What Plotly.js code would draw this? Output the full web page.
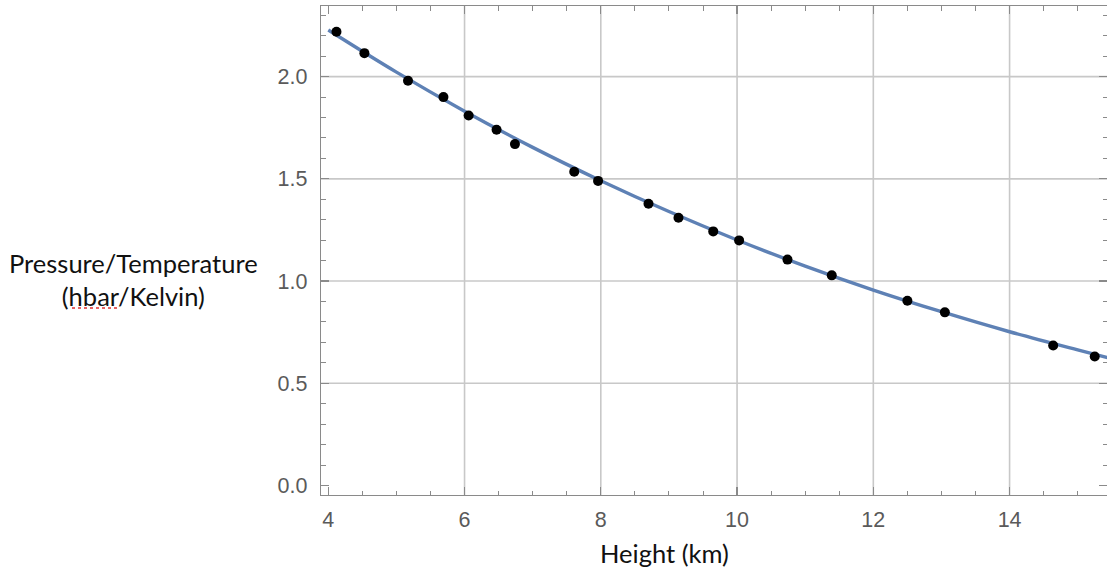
<!DOCTYPE html>
<html>
<head>
<meta charset="utf-8">
<script src="https://cdn.plot.ly/plotly-3.0.1.min.js"></script>
<style>html,body{margin:0;padding:0;background:#fff;}#chart{width:1107px;height:571px;}</style>
</head>
<body>
<div id="chart"></div>
<script>
// Measured data points
const heightKm = [4.12, 4.53, 5.17, 5.69, 6.06, 6.47, 6.74, 7.61, 7.96, 8.70, 9.14, 9.65, 10.03, 10.74, 11.39, 12.50, 13.05, 14.64, 15.25];
const pressureOverTemp = [2.22, 2.115, 1.98, 1.90, 1.81, 1.74, 1.67, 1.535, 1.49, 1.378, 1.31, 1.243, 1.199, 1.105, 1.028, 0.904, 0.847, 0.685, 0.631];

// Fitted curve
const fitX = [4, 5, 6, 7, 8, 9, 10, 11, 12, 13, 14, 15, 15.5];
const fitY = [2.228, 2.022, 1.831, 1.654, 1.491, 1.340, 1.201, 1.073, 0.956, 0.850, 0.752, 0.663, 0.620];

const xGridVals = [6, 8, 10, 12, 14];
const yGridVals = [0.5, 1.0, 1.5, 2.0];
const xTickVals = [4, 6, 8, 10, 12, 14];
const yTickVals = [0.0, 0.5, 1.0, 1.5, 2.0];
const yTickText = ['0.0', '0.5', '1.0', '1.5', '2.0'];

const xRange = [3.893, 15.43];
const yRange = [-0.0466, 2.3456];

const frameColor = '#8a8a8a';
const gridColor = '#c8c8c8';
const tickFont = {family: 'Liberation Sans, Arial, sans-serif', size: 21.5, color: '#5a5a5a'};
const titleFont = {family: 'Lato, Open Sans, sans-serif', size: 25.5, color: '#111'};

const traces = [
  {x: fitX, y: fitY, type: 'scatter', mode: 'lines', line: {color: '#5e81b5', width: 3.4, shape: 'spline'}, hoverinfo: 'skip'},
  {x: heightKm, y: pressureOverTemp, type: 'scatter', mode: 'markers', marker: {color: '#000', size: 10}}
];

const gridShapes = [
  ...xGridVals.map(v => ({type: 'line', xref: 'x', yref: 'paper', x0: v, x1: v, y0: 0, y1: 1, layer: 'below', line: {color: gridColor, width: 1.6}})),
  ...yGridVals.map(v => ({type: 'line', xref: 'paper', yref: 'y', x0: 0, x1: 1, y0: v, y1: v, layer: 'below', line: {color: gridColor, width: 1.6}}))
];

const layout = {
  width: 1107, height: 571,
  margin: {l: 321, r: 0, t: 6, b: 76},
  paper_bgcolor: '#fff', plot_bgcolor: '#fff',
  showlegend: false,
  xaxis: {
    range: xRange, tickmode: 'array', tickvals: xTickVals, ticktext: xTickVals.map(String),
    showgrid: false, zeroline: false,
    showline: true, linecolor: frameColor, linewidth: 1.2, mirror: 'allticks',
    ticks: 'inside', ticklen: 8, tickwidth: 1.2, tickcolor: frameColor,
    minor: {tickmode: 'linear', dtick: 0.5, tick0: 0, ticks: 'inside', ticklen: 4.5, tickwidth: 1, tickcolor: frameColor, showgrid: false},
    tickfont: tickFont, ticklabelstandoff: 5
  },
  yaxis: {
    range: yRange, tickmode: 'array', tickvals: yTickVals, ticktext: yTickText,
    showgrid: false, zeroline: false,
    showline: true, linecolor: frameColor, linewidth: 1.2, mirror: 'allticks',
    ticks: 'inside', ticklen: 8, tickwidth: 1.2, tickcolor: frameColor,
    minor: {tickmode: 'linear', dtick: 0.1, tick0: 0, ticks: 'inside', ticklen: 4.5, tickwidth: 1, tickcolor: frameColor, showgrid: false},
    tickfont: tickFont, ticklabelstandoff: 8
  },
  annotations: [
    {
      text: 'Pressure/Temperature<br>(hbar/Kelvin)',
      xref: 'paper', yref: 'paper', x: -0.239, y: 0.44,
      xanchor: 'center', yanchor: 'middle', showarrow: false, align: 'center',
      font: titleFont
    },
    {
      text: 'Height (km)',
      xref: 'paper', yref: 'paper', x: (664 - 321) / 786, y: -0.118,
      xanchor: 'center', yanchor: 'middle', showarrow: false,
      font: titleFont
    }
  ],
  shapes: [
    ...gridShapes,
    {
      type: 'line', xref: 'paper', yref: 'paper',
      x0: (72 - 321) / 786, x1: (120 - 321) / 786, y0: (495 - 308) / 489, y1: (495 - 308) / 489,
      line: {color: '#e03030', width: 1.5, dash: 'dot'}
    }
  ]
};

Plotly.newPlot('chart', traces, layout, {displayModeBar: false, staticPlot: true});
</script>
</body>
</html>
